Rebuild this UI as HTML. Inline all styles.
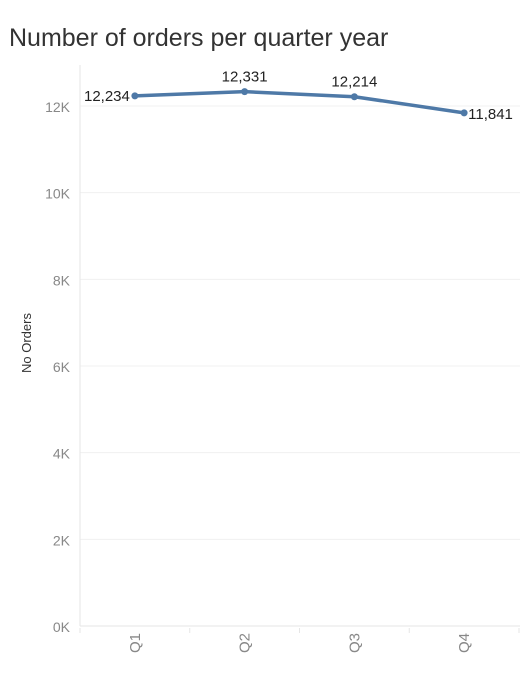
<!DOCTYPE html>
<html><head><meta charset="utf-8"><style>
body{margin:0;background:#fff;width:524px;height:686px;overflow:hidden;font-family:"Liberation Sans",sans-serif}
</style></head><body>
<svg width="524" height="686" id="c">
<text x="9" y="46" font-size="25" fill="#333">Number of orders per quarter year</text>
<text transform="translate(31,343) rotate(-90)" text-anchor="middle" font-size="13" fill="#333">No Orders</text>
<g id="grid"></g><g id="marks"></g>
</svg>
<script>
const categories=["Q1","Q2","Q3","Q4"];
const orders=[12234,12331,12214,11841];
const valueLabels=["12,234","12,331","12,214","11,841"];
const yTicks=[0,2000,4000,6000,8000,10000,12000];
const yTickLabels=["0K","2K","4K","6K","8K","10K","12K"];
const NS="http://www.w3.org/2000/svg";
const x0=80,x1=519,yBase=626,yTop=106;
const y=v=>yBase-(v/12000)*(yBase-yTop);
const bw=(x1-x0)/categories.length;
const x=i=>x0+bw*(i+0.5);
function mk(t,a,p){const e=document.createElementNS(NS,t);for(const k in a)e.setAttribute(k,a[k]);p.appendChild(e);return e;}
const g=document.getElementById('grid'),m=document.getElementById('marks');
yTicks.forEach((v,i)=>{
 const l=mk('line',{x1:x0,x2:520,y1:y(v),y2:y(v),stroke:i==0?'#e6e6e6':'#f0f0f0'},g);
 
 
 const t=mk('text',{x:70,y:y(v)+6,'text-anchor':'end','font-size':14,fill:'#888'},g);
 t.textContent=yTickLabels[i];
 
 
});
const ax=mk('line',{x1:x0,x2:x0,y1:65,y2:yBase,stroke:'#e6e6e6'},g);


for(let i=0;i<=categories.length;i++){
 const tk=mk('line',{x1:x0+bw*i,x2:x0+bw*i,y1:yBase+2,y2:yBase+7,stroke:'#e6e6e6'},g);
 
 
}
categories.forEach((c,i)=>{
 const t=mk('text',{transform:`translate(${x(i)+5},${yBase+17}) rotate(-90)`,'text-anchor':'middle','font-size':15,fill:'#888'},g);
 t.textContent=c;
 
 
});
const pl=mk('polyline',{points:orders.map((v,i)=>x(i)+','+y(v)).join(' '),fill:'none',stroke:'#4e79a7','stroke-width':3.5,'stroke-linejoin':'round'},m);


orders.forEach((v,i)=>{
 const c=mk('circle',{cx:x(i),cy:y(v),r:3.5,fill:'#4e79a7'},m);
 
 
 let a={'font-size':15,fill:'#222'};
 if(i==0){a.x=x(i)-5;a.y=y(v)+5;a['text-anchor']='end';}
 else if(i==categories.length-1){a.x=x(i)+4;a.y=y(v)+6;a['text-anchor']='start';}
 else{a.x=x(i);a.y=y(v)-10;a['text-anchor']='middle';}
 const t=mk('text',a,m);
 t.textContent=valueLabels[i];
 
 
});
</script>
</body></html>
